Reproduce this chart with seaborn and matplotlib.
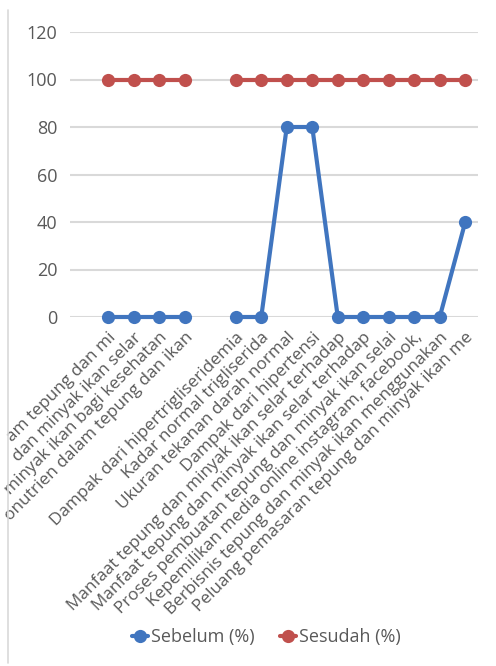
import numpy as np
import pandas as pd
import matplotlib
matplotlib.use("Agg")
import matplotlib.pyplot as plt
from matplotlib.lines import Line2D
import seaborn as sns

categories = [
    "",
    "am tepung dan mi",
    "dan minyak ikan selar",
    "minyak ikan bagi kesehatan",
    "onutrien dalam tepung dan ikan",
    "",
    "Dampak dari hipertrigliseridemia",
    "Kadar normal trigliserida",
    "Ukuran tekanan darah normal",
    "Dampak dari hipertensi",
    "Manfaat tepung dan minyak ikan selar terhadap",
    "Manfaat tepung dan minyak ikan selar terhadap",
    "Proses pembuatan tepung dan minyak ikan selai",
    "Kepemilikan media online instagram, facebook,",
    "Berbisnis tepung dan minyak ikan menggunakan",
    "Peluang pemasaran tepung dan minyak ikan me",
]
sebelum = [np.nan, 0, 0, 0, 0, np.nan, 0, 0, 80, 80, 0, 0, 0, 0, 0, 40]
sesudah = [np.nan, 100, 100, 100, 100, np.nan, 100, 100, 100, 100, 100, 100, 100, 100, 100, 100]
series_names = ["Sebelum (%)", "Sesudah (%)"]
y_ticks = [0, 20, 40, 60, 80, 100, 120]

BLUE = "#4075BF"
RED = "#C0504D"
TXT = "#595959"

sns.set_theme(style="white")
plt.rcParams["font.family"] = ["Open Sans", "DejaVu Sans"]

rows = []
for name, vals in zip(series_names, [sebelum, sesudah]):
    seg = 0
    for i, v in enumerate(vals):
        if np.isnan(v):
            seg += 1
            continue
        rows.append({"idx": i, "value": v, "series": name, "segment": seg})
df = pd.DataFrame(rows)

fig = plt.figure(figsize=(4.96, 6.66), dpi=100)
ax = fig.add_axes([70 / 496, (666 - 317) / 666, (478 - 70) / 496, (317 - 32) / 666])

sns.lineplot(data=df, x="idx", y="value", hue="series", units="segment",
             estimator=None, palette={series_names[0]: BLUE, series_names[1]: RED},
             marker="o", markersize=9.5, markeredgewidth=0, linewidth=3,
             legend=False, ax=ax, zorder=3)

ax.set_xlim(-0.5, len(categories) - 0.5)
ax.set_ylim(0, 120)
ax.set_yticks(y_ticks)
ax.set_yticklabels([str(t) for t in y_ticks], color=TXT, fontsize=13)
ax.set_xticks(range(len(categories)))
ax.set_xticklabels(categories, rotation=45, ha="right", rotation_mode="anchor",
                   color=TXT, fontsize=12.4)
ax.tick_params(axis="both", length=0)
ax.tick_params(axis="y", pad=9)
ax.tick_params(axis="x", pad=9)
ax.set_xlabel("")
ax.set_ylabel("")
ax.yaxis.grid(True, color="#D9D9D9", linewidth=1.5)
ax.set_axisbelow(True)
for s in ax.spines.values():
    s.set_visible(False)
for ln in ax.lines:
    ln.set_clip_on(False)

fig.add_artist(Line2D([7.5 / 496, 7.5 / 496], [3 / 666, 656 / 666], color="#D9D9D9", linewidth=1.2))

handles = [Line2D([0], [0], color=c, marker="o", markersize=9.5, linewidth=3, markeredgewidth=0)
           for c in (BLUE, RED)]
fig.legend(handles, series_names, loc="center", bbox_to_anchor=(266 / 496, 1 - 637 / 666),
           ncol=2, frameon=False, fontsize=13, handlelength=0.9, handletextpad=0.15,
           columnspacing=1.4, labelcolor=TXT)

fig.savefig("out.png", dpi=100)
